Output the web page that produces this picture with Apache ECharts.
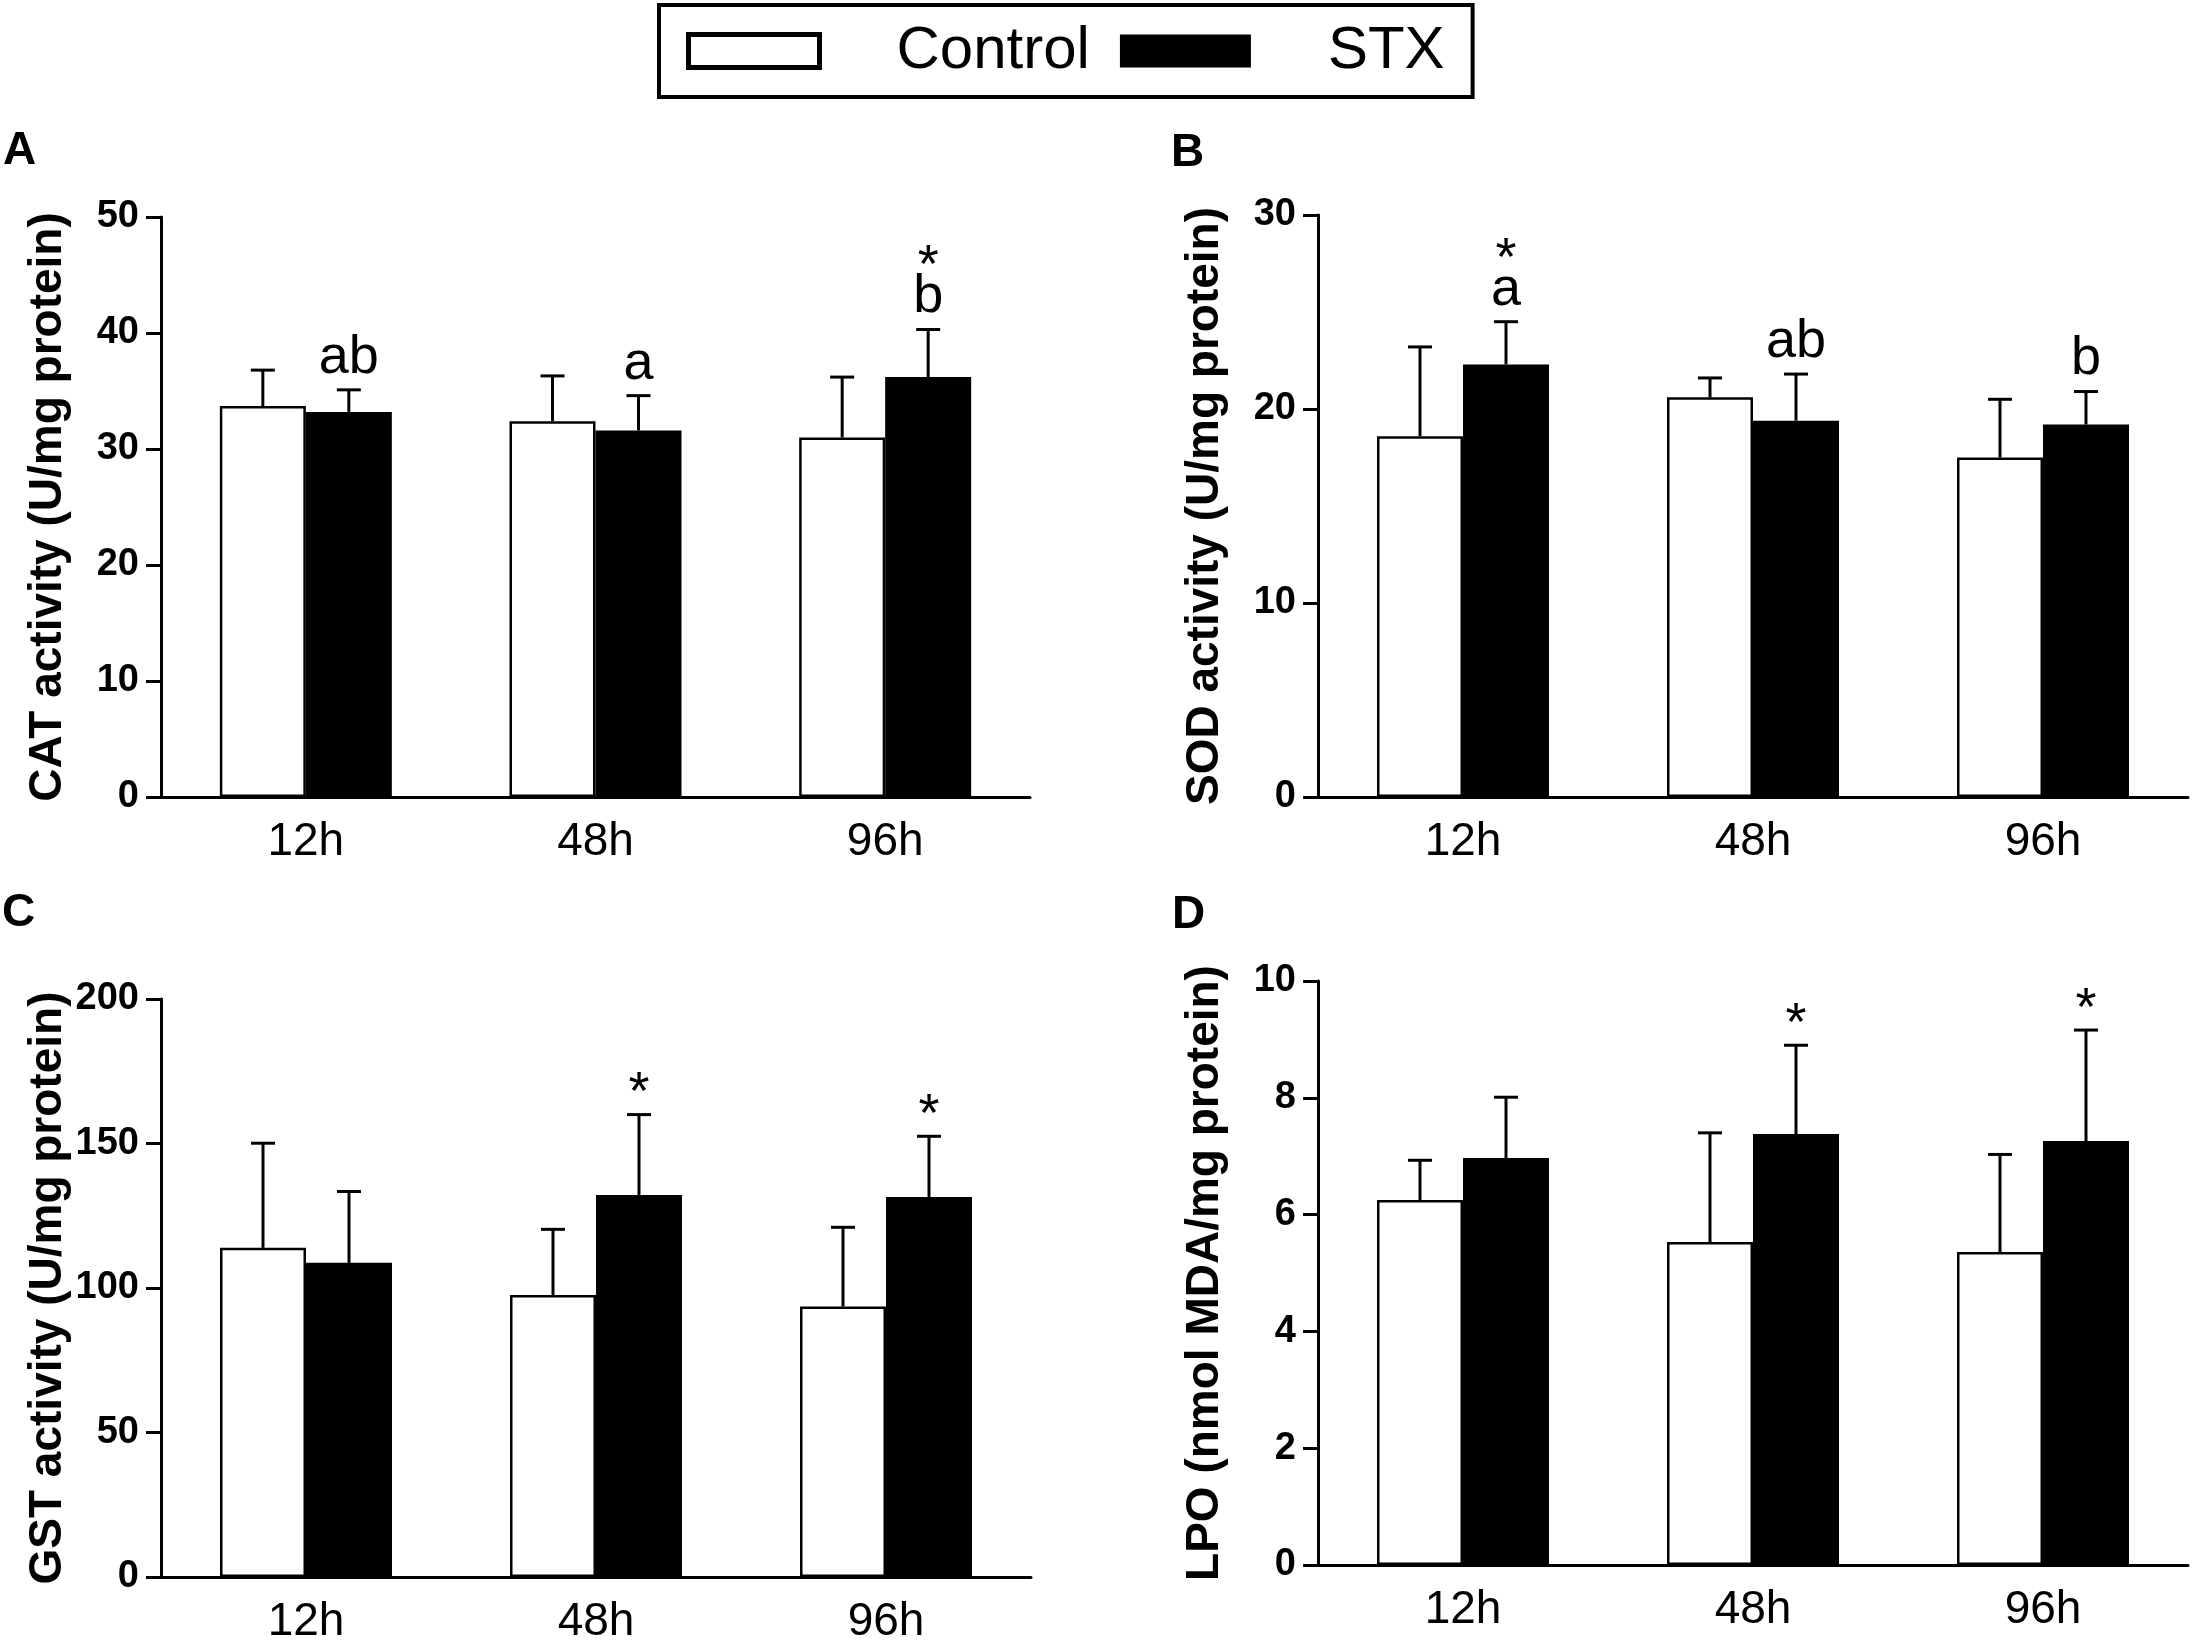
<!DOCTYPE html>
<html style="height: 100%">
<head>
<meta charset="utf-8">
<script type="text/javascript" src="https://cdn.jsdelivr.net/npm/echarts@6/dist/echarts.min.js"></script>
</head>
<body style="height: 100%; margin: 0; background: #fff">
<div id="container" style="width: 2199px; height: 1645px"></div>
<script type="text/javascript">
var categories = ['12h', '48h', '96h'];

// A - CAT
var catCtrl = [33.7, 32.4, 31.0];
var catCtrlUp = [36.8, 36.3, 36.2];
var catStx = [33.2, 31.6, 36.2];
var catStxUp = [35.1, 34.6, 40.3];
var catLetters = ['ab', 'a', 'b'];
var catStars = ['', '', '*'];

// B - SOD
var sodCtrl = [18.6, 20.6, 17.5];
var sodCtrlUp = [23.2, 21.6, 20.5];
var sodStx = [22.3, 19.4, 19.2];
var sodStxUp = [24.5, 21.8, 20.9];
var sodLetters = ['a', 'ab', 'b'];
var sodStars = ['*', '', ''];

// C - GST
var gstCtrl = [113.9, 97.6, 93.6];
var gstCtrlUp = [150.1, 120.3, 121.0];
var gstStx = [108.7, 132.2, 131.5];
var gstStxUp = [133.4, 160.0, 152.5];
var gstLetters = ['', '', ''];
var gstStars = ['', '*', '*'];

// D - LPO
var lpoCtrl = [6.25, 5.53, 5.36];
var lpoCtrlUp = [6.93, 7.40, 7.03];
var lpoStx = [6.97, 7.38, 7.26];
var lpoStxUp = [8.01, 8.90, 9.16];
var lpoLetters = ['', '', ''];
var lpoStars = ['', '*', '*'];

var yMax = [50, 30, 200, 10];
var yStep = [10, 10, 50, 2];
var yNames = ['CAT activity (U/mg protein)', 'SOD activity (U/mg protein)',
              'GST activity (U/mg protein)', 'LPO (nmol MDA/mg protein)'];

var FONT = 'Liberation Sans, Arial, sans-serif';
var BAR_W = 86;

function errData(mean, up) {
    var d = [];
    for (var i = 0; i < mean.length; i++) d.push([i, mean[i], up[i]]);
    return d;
}

// upward error bar + cap, with the letters / stars above the STX bars
function errRender(offset, letters, stars) {
    return function (params, api) {
        var i = api.value(0);
        var base = api.coord([i, api.value(1)]);
        var top = api.coord([i, api.value(2)]);
        var x = top[0] + offset;
        var kids = [
            {type: 'line', shape: {x1: x, y1: base[1], x2: x, y2: top[1]},
             style: {stroke: '#000', lineWidth: 3}},
            {type: 'line', shape: {x1: x - 12, y1: top[1], x2: x + 12, y2: top[1]},
             style: {stroke: '#000', lineWidth: 3}}
        ];
        var l = letters ? letters[i] : '';
        var s = stars ? stars[i] : '';
        if (l) {
            kids.push({type: 'text', x: x, y: top[1] - 32,
                style: {text: l, fill: '#000', font: '54px ' + FONT, align: 'center', verticalAlign: 'middle'}});
        }
        if (s) {
            kids.push({type: 'text', x: x, y: top[1] - (l ? 74 : 32) + 12,
                style: {text: s, fill: '#000', font: '54px ' + FONT, align: 'center', verticalAlign: 'middle'}});
        }
        return {type: 'group', children: kids};
    };
}

var grids = [
    {left: 161, top: 217, width: 869, height: 580},
    {left: 1318, top: 215, width: 870, height: 582},
    {left: 161, top: 999, width: 870, height: 583},
    {left: 1318, top: 981, width: 870, height: 584}
];

var panels = [
    [catCtrl, catCtrlUp, catStx, catStxUp, catLetters, catStars],
    [sodCtrl, sodCtrlUp, sodStx, sodStxUp, sodLetters, sodStars],
    [gstCtrl, gstCtrlUp, gstStx, gstStxUp, gstLetters, gstStars],
    [lpoCtrl, lpoCtrlUp, lpoStx, lpoStxUp, lpoLetters, lpoStars]
];

var xAxes = [], yAxes = [], series = [];
for (var p = 0; p < 4; p++) {
    xAxes.push({
        gridIndex: p, type: 'category', data: categories,
        axisLine: {lineStyle: {color: '#000', width: 3}},
        axisTick: {alignWithLabel: true, length: 15, lineStyle: {color: '#000', width: 3}},
        axisLabel: {color: '#000', fontSize: 46, fontFamily: FONT, margin: 22}
    });
    yAxes.push({
        gridIndex: p, type: 'value', min: 0, max: yMax[p], interval: yStep[p],
        name: yNames[p], nameLocation: 'middle', nameGap: 90, nameRotate: 90,
        nameTextStyle: {color: '#000', fontSize: 46, fontWeight: 'bold', fontFamily: FONT},
        splitLine: {show: false},
        axisLine: {show: true, lineStyle: {color: '#000', width: 3}},
        axisTick: {show: true, length: 15, lineStyle: {color: '#000', width: 3}},
        axisLabel: {color: '#000', fontSize: 38, fontWeight: 'bold', fontFamily: FONT, margin: 22}
    });
    var d = panels[p];
    series.push({
        name: 'Control', type: 'bar', xAxisIndex: p, yAxisIndex: p,
        data: d[0], barWidth: BAR_W, barGap: '0%',
        itemStyle: {color: '#fff', borderColor: '#000', borderWidth: 2.5}
    });
    series.push({
        name: 'STX', type: 'bar', xAxisIndex: p, yAxisIndex: p,
        data: d[2], barWidth: BAR_W, barGap: '0%',
        itemStyle: {color: '#000', borderColor: '#000', borderWidth: 2.5}
    });
    series.push({
        type: 'custom', xAxisIndex: p, yAxisIndex: p, z: 5, clip: false,
        data: errData(d[0], d[1]), encode: {x: 0, y: [1, 2]},
        renderItem: errRender(-BAR_W / 2, null, null)
    });
    series.push({
        type: 'custom', xAxisIndex: p, yAxisIndex: p, z: 5, clip: false,
        data: errData(d[2], d[3]), encode: {x: 0, y: [1, 2]},
        renderItem: errRender(BAR_W / 2, d[4], d[5])
    });
}

var titles = [
    {text: 'A', left: 3, top: 128},
    {text: 'B', left: 1171, top: 130},
    {text: 'C', left: 2, top: 890},
    {text: 'D', left: 1172, top: 892}
];
for (var t = 0; t < titles.length; t++) {
    titles[t].padding = 0;
    titles[t].textStyle = {color: '#000', fontSize: 46, fontWeight: 'bold', fontFamily: FONT};
}

var option = {
    backgroundColor: '#fff',
    animation: false,
    title: titles,
    legend: {
        left: 659, top: 5,
        padding: [16, 28, 16, 27],
        borderColor: '#000', borderWidth: 4,
        itemWidth: 131, itemHeight: 33, itemGap: 30,
        textStyle: {color: '#000', fontSize: 60, fontFamily: FONT, padding: [0, 0, 0, 72]},
        data: [
            {name: 'Control', icon: 'rect', itemStyle: {color: '#fff', borderColor: '#000', borderWidth: 5}},
            {name: 'STX', icon: 'rect', itemStyle: {color: '#000', borderColor: '#000', borderWidth: 0}}
        ],
        selectedMode: false
    },
    grid: grids,
    xAxis: xAxes,
    yAxis: yAxes,
    series: series
};

var myChart = echarts.init(document.getElementById('container'));
myChart.setOption(option);
</script>
</body>
</html>
